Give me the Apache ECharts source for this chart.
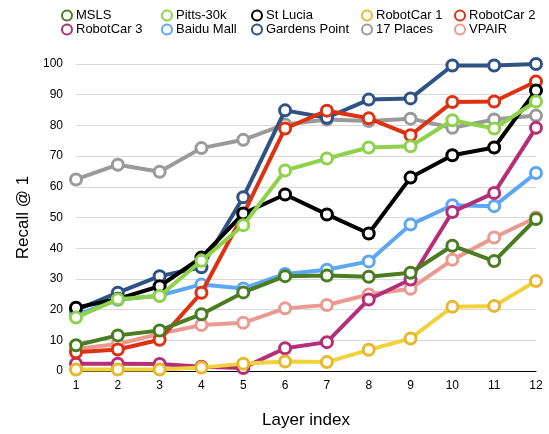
<!DOCTYPE html>
<html><head><meta charset="utf-8">
<script src="https://cdn.jsdelivr.net/npm/echarts@6/dist/echarts.min.js"></script>
<style>html,body{margin:0;padding:0;background:#fff}#c{width:549px;height:434px}</style>
</head><body><div id="c"></div>
<script>
const layers = ['1','2','3','4','5','6','7','8','9','10','11','12'];
const msls = [8.4, 11.6, 13.2, 18.5, 25.6, 30.9, 31.1, 30.7, 32.0, 40.8, 35.8, 49.5];
const pitts = [17.4, 23.4, 24.4, 35.9, 47.5, 65.3, 69.2, 72.8, 73.2, 81.7, 79.0, 87.8];
const stLucia = [20.6, 23.5, 27.6, 37.0, 51.3, 57.5, 51.0, 44.8, 63.0, 70.3, 72.8, 91.4];
const robotCar1 = [0.5, 0.5, 0.5, 1.1, 2.4, 3.1, 2.9, 6.9, 10.6, 20.9, 21.2, 29.3];
const robotCar2 = [6.1, 7.0, 10.2, 25.5, 51.0, 79.0, 84.8, 82.3, 76.8, 87.6, 87.8, 94.3];
const robotCar3 = [2.4, 2.4, 2.3, 1.4, 1.0, 7.4, 9.4, 23.3, 29.8, 51.8, 58.0, 79.2];
const baiduMall = [18.2, 23.2, 24.6, 28.2, 26.9, 31.6, 33.0, 35.7, 47.7, 54.0, 53.7, 64.5];
const gardensPoint = [19.8, 25.5, 30.9, 33.8, 56.6, 84.9, 82.5, 88.4, 88.8, 99.5, 99.5, 100.0];
const places17 = [62.4, 67.2, 64.9, 72.6, 75.3, 80.3, 81.9, 81.4, 82.2, 79.2, 81.9, 83.2];
const vpair = [7.2, 8.8, 12.1, 15.0, 15.7, 20.4, 21.5, 24.9, 26.8, 36.2, 43.5, 50.0];
const yTicks = [0,10,20,30,40,50,60,70,80,90,100];

const defs = [
  ['MSLS', msls, '#4a7d22', '#4a7d22'],
  ['Pitts-30k', pitts, '#8ed24a', '#8ed24a'],
  ['St Lucia', stLucia, '#000000', '#000000'],
  ['RobotCar 1', robotCar1, '#f2d23c', '#e8b82c'],
  ['RobotCar 2', robotCar2, '#dc3212', '#dc3212'],
  ['RobotCar 3', robotCar3, '#b52f78', '#b52f78'],
  ['Baidu Mall', baiduMall, '#5ca6f4', '#5ca6f4'],
  ['Gardens Point', gardensPoint, '#2e5284', '#2e5284'],
  ['17 Places', places17, '#9a9a9a', '#9a9a9a'],
  ['VPAIR', vpair, '#ea9a90', '#ea9a90']
];
const series = defs.map((d, i) => ({
  name: d[0], type: 'line', data: d[1], z: 20 - i,
  symbol: 'circle', symbolSize: 11, showSymbol: true,
  lineStyle: {color: d[2], width: 4},
  itemStyle: {color: '#fff', borderColor: d[3], borderWidth: 3},
  emphasis: {disabled: true}
}));
const font = 'Liberation Sans, Arial, Helvetica, sans-serif';
const colLeft = [56, 156, 246, 356, 449];
const legends = colLeft.map((l, c) => ({
  left: l, top: 4, orient: 'vertical', itemGap: 1,
  icon: 'circle', itemWidth: 10, itemHeight: 10,
  textStyle: {fontFamily: font, fontSize: 13, color: '#000', padding: [0,0,0,-1]},
  data: [defs[c][0], defs[c + 5][0]]
}));
const chart = echarts.init(document.getElementById('c'), null, {renderer: 'canvas'});
chart.setOption({
  animation: false,
  backgroundColor: '#fff',
  legend: legends,
  grid: {left: 76, right: 13, top: 64, bottom: 60},
  xAxis: {
    type: 'category', data: layers, boundaryGap: false,
    name: 'Layer index', nameLocation: 'middle', nameGap: 41,
    nameTextStyle: {fontFamily: font, fontSize: 17, color: '#000'},
    axisLine: {lineStyle: {color: '#000', width: 1}},
    axisTick: {show: false},
    axisLabel: {fontFamily: font, fontSize: 12, color: '#000', margin: 9},
    splitLine: {show: false}
  },
  yAxis: {
    type: 'value', min: 0, max: 100, interval: 10,
    name: 'Recall @ 1', nameLocation: 'middle', nameGap: 41,
    nameTextStyle: {fontFamily: font, fontSize: 17, color: '#000'},
    axisLine: {show: false}, axisTick: {show: false},
    axisLabel: {fontFamily: font, fontSize: 12, color: '#000', margin: 13,
      formatter: v => yTicks.includes(v) ? String(v) : ''},
    splitLine: {lineStyle: {color: '#d9d9d9', width: 1}}
  },
  series: series
});
</script></body></html>
